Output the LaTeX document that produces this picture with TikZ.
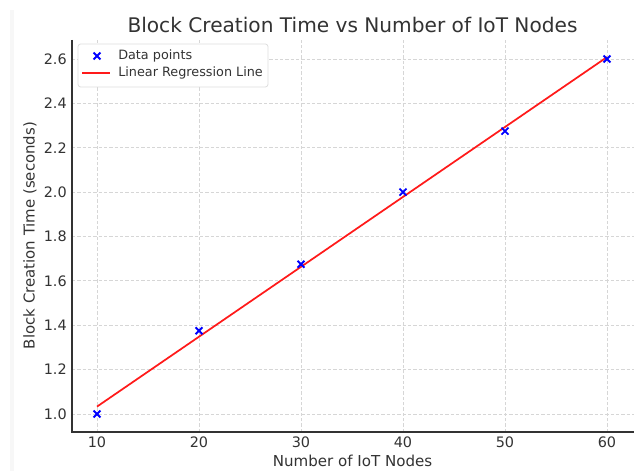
\documentclass[tikz,border=0pt]{standalone}
\usepackage{fontspec}
\setmainfont{DejaVu Sans}
\usepackage{xcolor}
\usetikzlibrary{positioning}
\definecolor{txtgray}{HTML}{333333}
\definecolor{gridgray}{HTML}{D6D6D6}
\definecolor{ptblue}{HTML}{0000FF}
\definecolor{fitred}{HTML}{FF1A1A}
\tikzstyle{gridline}=[gridgray,line width=0.6pt,dash pattern=on 2.4pt off 1.6pt]
\tikzstyle{spine}=[txtgray,line width=1.1pt]
\tikzstyle{ticklabel}=[txtgray,font=\fontsize{10.8}{12}\selectfont,inner sep=0pt]
\newcommand{\xmark}[2]{
  \draw[ptblue,line width=1.4pt] (#1,#2) ++(-2.6pt,-2.6pt) -- ++(5.2pt,5.2pt)
    (#1,#2) ++(-2.6pt,2.6pt) -- ++(5.2pt,-5.2pt);
}

\begin{document}
\begin{tikzpicture}[x=0.75pt,y=0.75pt]
\useasboundingbox (0,0) rectangle (637,471);
\fill[white] (0,0) rectangle (637,471);
\fill[black!3] (10,0) rectangle (14,461);
% data frame
\begin{scope}[x=7.65pt,y=166.425pt,xshift=-3.75pt,yshift=-123.675pt]
\foreach \xv in {10,20,...,60}
  \draw[gridline] (\xv,0.919) -- (\xv,2.686);
\foreach \yv in {1.0,1.2,...,2.61}
  \draw[gridline] (7.55,\yv) -- (62.6,\yv);
\draw[spine] (7.55,2.686) coordinate (top) -- (7.55,0.919) coordinate (origin)
  -- (62.6,0.919) coordinate (right);
\foreach \xv in {10,20,...,60}
  \node[ticklabel,anchor=north] (xt\xv) at ([yshift=-3.4pt]\xv,0.919) {\xv};
\foreach \yv/\lab in {1.0/1.0,1.2/1.2,1.4/1.4,1.6/1.6,1.8/1.8,2.0/2.0,2.2/2.2,2.4/2.4,2.6/2.6}
  \node[ticklabel,anchor=east] (yt\lab) at ([xshift=-3.8pt]7.55,\yv) {\lab};
\draw[fitred,line width=1.3pt] (10,1.0333) coordinate (fitstart) -- (60,2.6083) coordinate (fitend);
\xmark{10}{1.0}
\xmark{20}{1.375}
\xmark{30}{1.675}
\xmark{40}{2.0}
\xmark{50}{2.275}
\xmark{60}{2.6}
\end{scope}
% labels
\node[txtgray,font=\fontsize{11.3}{13}\selectfont] (xlabel) at (352.5,10) {Number of IoT Nodes};
\node[txtgray,font=\fontsize{11.2}{13}\selectfont,rotate=90] (ylabel) at (30,235.5) {Block Creation Time (seconds)};
\node[txtgray,font=\fontsize{15.1}{18}\selectfont] (title) at (352.5,446) {Block Creation Time vs Number of IoT Nodes};
% legend
\draw[gridgray!80,fill=white,rounded corners=2pt,line width=0.6pt] (78,384) rectangle (268,427);
\draw[ptblue,line width=1.4pt] (97,415) ++(-2.6pt,-2.6pt) -- ++(5.2pt,5.2pt)
  (97,415) ++(-2.6pt,2.6pt) -- ++(5.2pt,-5.2pt);
\draw[fitred,line width=1.3pt] (82,398) -- (110,398);
\node[txtgray,font=\fontsize{9.6}{11}\selectfont,anchor=west,inner sep=0pt] (lgdata) at (118,415) {Data points};
\node[txtgray,font=\fontsize{9.6}{11}\selectfont,anchor=west,inner sep=0pt] (lgfit) at (118,398) {Linear Regression Line};
\end{tikzpicture}
\end{document}
